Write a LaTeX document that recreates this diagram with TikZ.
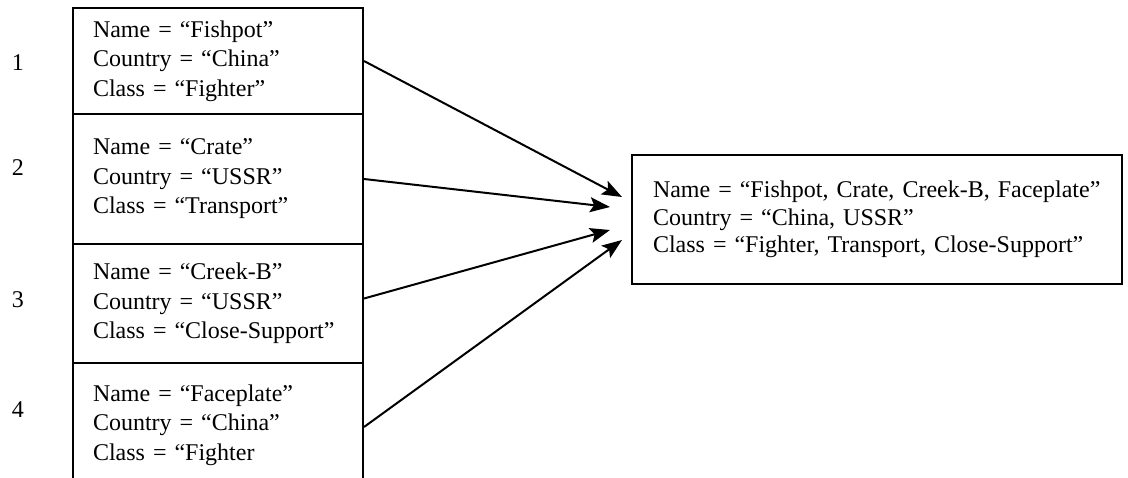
\documentclass[tikz,border=0pt]{standalone}
\usepackage{fontspec}
\setmainfont{Liberation Serif}
\usetikzlibrary{arrows.meta}
\begin{document}
\begin{tikzpicture}[x=1pt,y=-1pt,
  rec/.style={draw,line width=2pt,minimum width=290pt,inner xsep=20pt,
    text width=250pt,align=left,anchor=north west,inner ysep=0pt,
    font=\fontsize{24}{29.5}\selectfont},
  num/.style={font=\fontsize{24}{28}\selectfont,anchor=center},
  link/.style={line width=2pt,-{Stealth[length=20pt,width=15pt,inset=4pt]}}]
\useasboundingbox (0,0) rectangle (1128,477);
\clip (0,0) rectangle (1128,477);
% stacked source records
\node[rec,minimum height=106pt] (b1) at (72,7) {Name = “Fishpot”\\Country = “China”\\Class = “Fighter”};
\node[rec,minimum height=130pt] (b2) at (72,113) {Name = “Crate”\\Country = “USSR”\\Class = “Transport”};
\node[rec,minimum height=119pt] (b3) at (72,243) {Name = “Creek-B”\\Country = “USSR”\\Class = “Close-Support”};
\node[rec,minimum height=124pt] (b4) at (72,362) {Name = “Faceplate”\\Country = “China”\\Class = “Fighter};
% record numbers
\node[num] (n1) at (18,63) {1};
\node[num] (n2) at (18,168) {2};
\node[num] (n3) at (18,300) {3};
\node[num] (n4) at (18,410) {4};
% merged record
\node[draw,line width=2pt,anchor=north west,minimum width=490pt,minimum height=129pt,
  inner xsep=21pt,text width=448pt,align=left,font=\fontsize{24}{27.5}\selectfont] (m) at (631,154)
  {Name = “Fishpot, Crate, Creek-B, Faceplate”\\Country = “China, USSR”\\Class = “Fighter, Transport, Close-Support”};
% arrow tips, short of the merged record
\coordinate (t1) at (622,197);
\coordinate (t2) at (610,207);
\coordinate (t3) at (610,230);
\coordinate (t4) at (622,240);
\draw[link] (b1.east) -- (t1);
\draw[link] (b2.east) -- (t2);
\draw[link] ([yshift=5pt]b3.east) -- (t3);
\draw[link] ([yshift=-2pt]b4.east) -- (t4);
\end{tikzpicture}
\end{document}
